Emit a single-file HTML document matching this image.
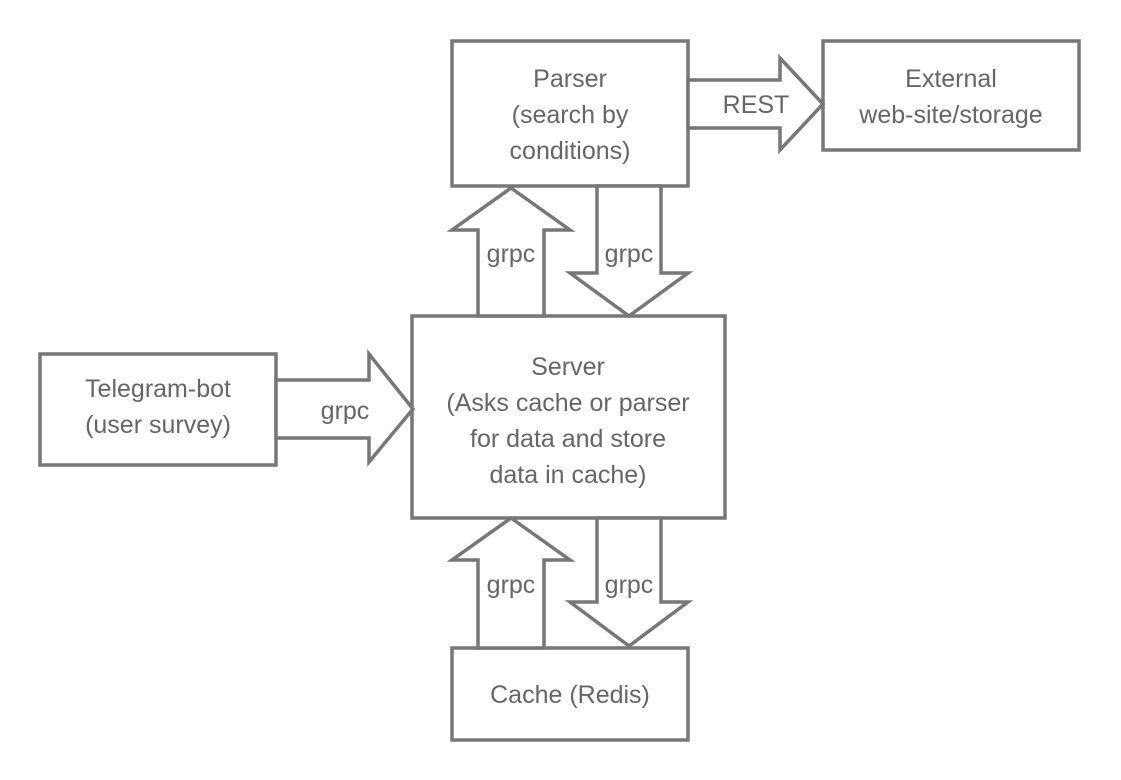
<!DOCTYPE html>
<html><head><meta charset="utf-8"><style>
html,body{margin:0;padding:0;background:#fff;}
svg{display:block;}
text{font-family:"Liberation Sans",sans-serif;font-size:25px;fill:#666;text-anchor:middle;}
</style></head><body>
<svg width="1121" height="780" viewBox="0 0 1121 780">
<g fill="#fff" stroke="#777" stroke-width="3.5" stroke-linejoin="miter">
<rect x="452" y="41" width="236" height="145"/>
<rect x="823" y="41" width="256" height="109"/>
<rect x="412" y="316" width="313" height="202"/>
<rect x="40" y="354" width="236" height="111"/>
<rect x="452" y="648" width="236" height="92"/>
<polygon points="688,80 780,80 780,58 823,104 780,150 780,128 688,128"/>
<polygon points="276,380 369,380 369,354 413,409 369,462 369,438 276,438"/>
<polygon points="478,316 478,230 452,230 511,188 570,230 544,230 544,316"/>
<polygon points="597,186 597,273 570,273 629,316 688,273 661,273 661,186"/>
<polygon points="478,648 478,560 452,560 511,518 570,560 544,560 544,648"/>
<polygon points="597,518 597,602 570,602 629,646 688,602 661,602 661,518"/>
</g>
<text x="570" y="87">Parser</text>
<text x="570" y="123">(search by</text>
<text x="570" y="159">conditions)</text>
<text x="951" y="87">External</text>
<text x="951" y="123">web-site/storage</text>
<text x="756" y="113">REST</text>
<text x="511" y="262">grpc</text>
<text x="629" y="262">grpc</text>
<text x="568" y="375">Server</text>
<text x="568" y="411">(Asks cache or parser</text>
<text x="568" y="447">for data and store</text>
<text x="568" y="483">data in cache)</text>
<text x="158" y="397">Telegram-bot</text>
<text x="158" y="433">(user survey)</text>
<text x="345" y="419">grpc</text>
<text x="511" y="593">grpc</text>
<text x="629" y="593">grpc</text>
<text x="570" y="703">Cache (Redis)</text>
</svg>
</body></html>
